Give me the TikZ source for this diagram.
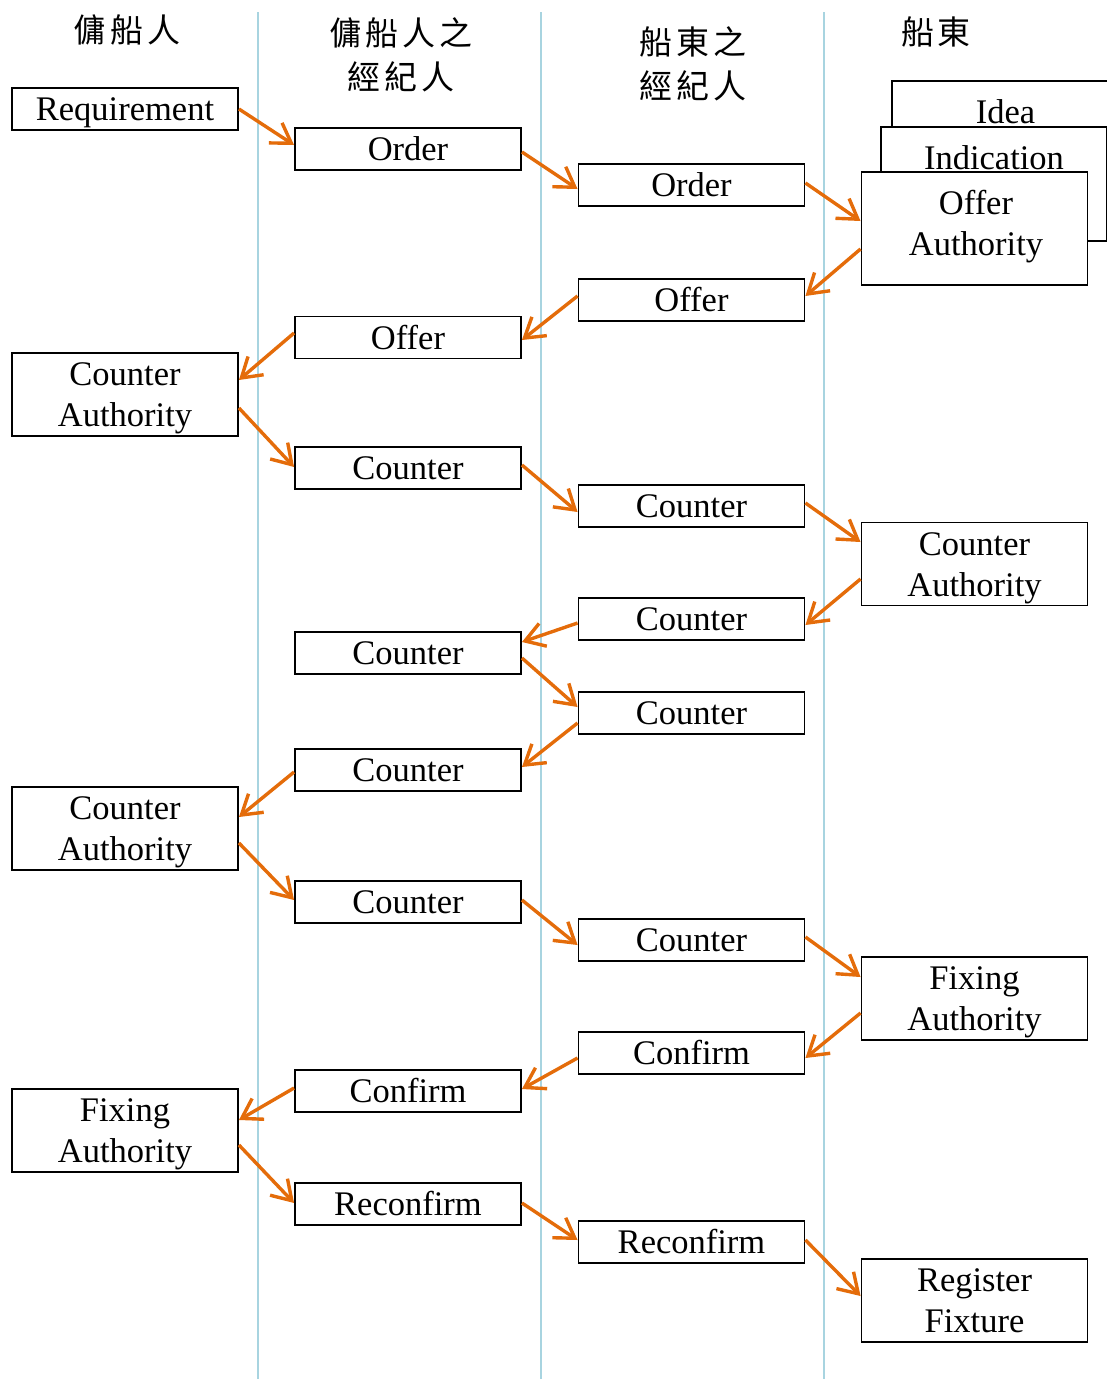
\documentclass[tikz,border=0pt]{standalone}
\usepackage{fontspec}
\setmainfont{Liberation Serif}
\newfontfamily\cjkfont[LetterSpace=12]{Noto Sans CJK TC}
\usetikzlibrary{arrows.meta}
\definecolor{arrowc}{HTML}{E46C0A}
\definecolor{lifec}{HTML}{A8D4E0}
\tikzset{
  box/.style={draw, line width=1.9pt, fill=white, minimum width=226pt, minimum height=42pt,
    inner sep=0pt, align=center, font=\fontsize{34.5}{41}\selectfont,
    text height=30pt, text depth=7pt},
  tall/.style={box, minimum height=83pt, text height=72pt, text depth=7.4pt},
  lbl/.style={inner sep=0pt, font=\fontsize{34.5}{41}\selectfont},
  arr/.style={draw=arrowc, line width=3.4pt, -{Straight Barb[length=19pt,width=24pt]}},
  life/.style={draw=lifec, line width=2pt},
  head/.style={align=center, font=\cjkfont\fontsize{33}{44}\selectfont}
}
\begin{document}
\begin{tikzpicture}[x=1pt,y=-1pt]
\path[use as bounding box, clip] (0,0) rectangle (1107,1379);

% lifelines
\draw[life] (258,12) -- (258,1379);
\draw[life] (541,12) -- (541,1379);
\draw[life] (824,12) -- (824,1379);

% headers
\node[head] (h1) at (127,30) {傭船人};
\node[head] (h2) at (401,55) {傭船人之\\經紀人};
\node[head] (h3) at (693,64) {船東之\\經紀人};
\node[head] (h4) at (936,32) {船東};

% column 1
\node[box] (req) at (125,109) {Requirement};
\node[tall] (ca1a) at (125,394.5) {Counter\\Authority};
\node[tall] (ca1b) at (125,828.5) {Counter\\Authority};
\node[tall] (fa1) at (125,1130.5) {Fixing\\Authority};

% column 2
\node[box] (ord2) at (408,149) {Order};
\node[box] (off2) at (408,337.5) {Offer};
\node[box] (c2a) at (408,468) {Counter};
\node[box] (c2b) at (408,653) {Counter};
\node[box] (c2c) at (408,770) {Counter};
\node[box] (c2d) at (408,902) {Counter};
\node[box] (cf2) at (408,1091) {Confirm};
\node[box] (rc2) at (408,1204) {Reconfirm};

% column 3
\node[box] (ord3) at (691.5,185) {Order};
\node[box] (off3) at (691.5,300) {Offer};
\node[box] (c3a) at (691.5,506) {Counter};
\node[box] (c3b) at (691.5,619) {Counter};
\node[box] (c3c) at (691.5,713) {Counter};
\node[box] (c3d) at (691.5,940) {Counter};
\node[box] (cf3) at (691.5,1053) {Confirm};
\node[box] (rc3) at (691.5,1242) {Reconfirm};

% column 4
\node[box, minimum width=227pt, minimum height=114pt, anchor=north west] (idea) at (891,80) {};
\node[lbl] (ideat) at (1005.5,112) {Idea};
\node[box, minimum height=114pt, anchor=north west] (indic) at (880,126) {};
\node[lbl] (indict) at (994,158) {Indication};
\node[box, minimum height=113pt] (oa4) at (974.5,228.5) {};
\node[lbl, align=center] (oa4t) at (976,227) {Offer\\Authority};
\node[tall] (ca4) at (974.5,564) {Counter\\Authority};
\node[tall] (fa4) at (974.5,998.5) {Fixing\\Authority};
\node[tall] (rf4) at (974.5,1300.5) {Register\\Fixture};

% arrows
\draw[arr] ([yshift=0pt]req.east) -- ([yshift=4pt]ord2.west);
\draw[arr] ([yshift=-3pt]ord2.east) -- ([yshift=-4pt]ord3.west);
\draw[arr] ([yshift=2pt]ord3.east) -- ([yshift=7.5pt]oa4.west);
\draw[arr] ([yshift=-20.5pt]oa4.west) -- ([yshift=4pt]off3.east);
\draw[arr] ([yshift=4pt]off3.west) -- ([yshift=-2.5pt]off2.east);
\draw[arr] ([yshift=4.5pt]off2.west) -- ([yshift=14.5pt]ca1a.east);
\draw[arr] ([yshift=-13.5pt]ca1a.east) -- ([yshift=1pt]c2a.west);
\draw[arr] ([yshift=3pt]c2a.east) -- ([yshift=-6pt]c3a.west);
\draw[arr] ([yshift=3pt]c3a.east) -- ([yshift=22pt]ca4.west);
\draw[arr] ([yshift=-15pt]ca4.west) -- ([yshift=-6pt]c3b.east);
\draw[arr] ([yshift=-4pt]c3b.west) -- ([yshift=11pt]c2b.east);
\draw[arr] ([yshift=-5pt]c2b.east) -- ([yshift=6pt]c3c.west);
\draw[arr] ([yshift=-10pt]c3c.west) -- ([yshift=3pt]c2c.east);
\draw[arr] ([yshift=-2pt]c2c.west) -- ([yshift=11.5pt]ca1b.east);
\draw[arr] ([yshift=-14.5pt]ca1b.east) -- ([yshift=2pt]c2d.west);
\draw[arr] ([yshift=2pt]c2d.east) -- ([yshift=-5pt]c3d.west);
\draw[arr] ([yshift=3pt]c3d.east) -- ([yshift=21.5pt]fa4.west);
\draw[arr] ([yshift=-14.5pt]fa4.west) -- ([yshift=-5pt]cf3.east);
\draw[arr] ([yshift=-5pt]cf3.west) -- ([yshift=2pt]cf2.east);
\draw[arr] ([yshift=3pt]cf2.west) -- ([yshift=10.5pt]fa1.east);
\draw[arr] ([yshift=-14.5pt]fa1.east) -- ([yshift=1pt]rc2.west);
\draw[arr] ([yshift=1pt]rc2.east) -- ([yshift=2pt]rc3.west);
\draw[arr] ([yshift=2pt]rc3.east) -- ([yshift=4.5pt]rf4.west);
\end{tikzpicture}
\end{document}
